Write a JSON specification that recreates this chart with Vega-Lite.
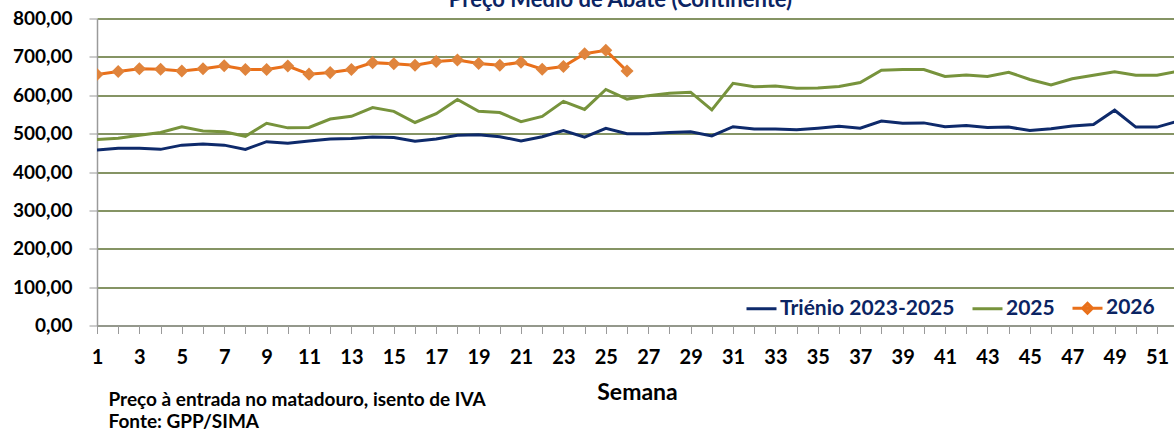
{
  "$schema": "https://vega.github.io/schema/vega-lite/v6.json",
  "autosize": "none",
  "width": 1077,
  "height": 307,
  "padding": {"left": 97, "top": 18.5, "right": 0, "bottom": 108.5},
  "background": "white",
  "config": {
    "view": {"stroke": null},
    "font": "Lato"
  },
  "title": {
    "text": "Preço Médio de Abate (Continente)",
    "anchor": "middle",
    "dx": -15,
    "dy": 19,
    "offset": 0,
    "baseline": "alphabetic",
    "font": "Lato",
    "fontSize": 22,
    "fontWeight": "bold",
    "color": "#0B2463"
  },
  "data": {
    "values": [
      {"semana": 1, "serie": "Triénio 2023-2025", "preco": 457},
      {"semana": 2, "serie": "Triénio 2023-2025", "preco": 462},
      {"semana": 3, "serie": "Triénio 2023-2025", "preco": 462},
      {"semana": 4, "serie": "Triénio 2023-2025", "preco": 459},
      {"semana": 5, "serie": "Triénio 2023-2025", "preco": 470},
      {"semana": 6, "serie": "Triénio 2023-2025", "preco": 473},
      {"semana": 7, "serie": "Triénio 2023-2025", "preco": 470},
      {"semana": 8, "serie": "Triénio 2023-2025", "preco": 459},
      {"semana": 9, "serie": "Triénio 2023-2025", "preco": 479},
      {"semana": 10, "serie": "Triénio 2023-2025", "preco": 475},
      {"semana": 11, "serie": "Triénio 2023-2025", "preco": 481},
      {"semana": 12, "serie": "Triénio 2023-2025", "preco": 486},
      {"semana": 13, "serie": "Triénio 2023-2025", "preco": 487},
      {"semana": 14, "serie": "Triénio 2023-2025", "preco": 491},
      {"semana": 15, "serie": "Triénio 2023-2025", "preco": 490},
      {"semana": 16, "serie": "Triénio 2023-2025", "preco": 480},
      {"semana": 17, "serie": "Triénio 2023-2025", "preco": 486},
      {"semana": 18, "serie": "Triénio 2023-2025", "preco": 496},
      {"semana": 19, "serie": "Triénio 2023-2025", "preco": 497},
      {"semana": 20, "serie": "Triénio 2023-2025", "preco": 492},
      {"semana": 21, "serie": "Triénio 2023-2025", "preco": 481},
      {"semana": 22, "serie": "Triénio 2023-2025", "preco": 492},
      {"semana": 23, "serie": "Triénio 2023-2025", "preco": 508},
      {"semana": 24, "serie": "Triénio 2023-2025", "preco": 491},
      {"semana": 25, "serie": "Triénio 2023-2025", "preco": 514},
      {"semana": 26, "serie": "Triénio 2023-2025", "preco": 500},
      {"semana": 27, "serie": "Triénio 2023-2025", "preco": 500},
      {"semana": 28, "serie": "Triénio 2023-2025", "preco": 503},
      {"semana": 29, "serie": "Triénio 2023-2025", "preco": 505},
      {"semana": 30, "serie": "Triénio 2023-2025", "preco": 494},
      {"semana": 31, "serie": "Triénio 2023-2025", "preco": 518},
      {"semana": 32, "serie": "Triénio 2023-2025", "preco": 512},
      {"semana": 33, "serie": "Triénio 2023-2025", "preco": 512},
      {"semana": 34, "serie": "Triénio 2023-2025", "preco": 510},
      {"semana": 35, "serie": "Triénio 2023-2025", "preco": 514},
      {"semana": 36, "serie": "Triénio 2023-2025", "preco": 519},
      {"semana": 37, "serie": "Triénio 2023-2025", "preco": 514},
      {"semana": 38, "serie": "Triénio 2023-2025", "preco": 533},
      {"semana": 39, "serie": "Triénio 2023-2025", "preco": 527},
      {"semana": 40, "serie": "Triénio 2023-2025", "preco": 528},
      {"semana": 41, "serie": "Triénio 2023-2025", "preco": 518},
      {"semana": 42, "serie": "Triénio 2023-2025", "preco": 521},
      {"semana": 43, "serie": "Triénio 2023-2025", "preco": 516},
      {"semana": 44, "serie": "Triénio 2023-2025", "preco": 517},
      {"semana": 45, "serie": "Triénio 2023-2025", "preco": 508},
      {"semana": 46, "serie": "Triénio 2023-2025", "preco": 513},
      {"semana": 47, "serie": "Triénio 2023-2025", "preco": 520},
      {"semana": 48, "serie": "Triénio 2023-2025", "preco": 524},
      {"semana": 49, "serie": "Triénio 2023-2025", "preco": 561},
      {"semana": 50, "serie": "Triénio 2023-2025", "preco": 517},
      {"semana": 51, "serie": "Triénio 2023-2025", "preco": 517},
      {"semana": 52, "serie": "Triénio 2023-2025", "preco": 533},
      {"semana": 1, "serie": "2025", "preco": 485},
      {"semana": 2, "serie": "2025", "preco": 488},
      {"semana": 3, "serie": "2025", "preco": 496},
      {"semana": 4, "serie": "2025", "preco": 503},
      {"semana": 5, "serie": "2025", "preco": 518},
      {"semana": 6, "serie": "2025", "preco": 507},
      {"semana": 7, "serie": "2025", "preco": 505},
      {"semana": 8, "serie": "2025", "preco": 493},
      {"semana": 9, "serie": "2025", "preco": 527},
      {"semana": 10, "serie": "2025", "preco": 515},
      {"semana": 11, "serie": "2025", "preco": 516},
      {"semana": 12, "serie": "2025", "preco": 538},
      {"semana": 13, "serie": "2025", "preco": 545},
      {"semana": 14, "serie": "2025", "preco": 568},
      {"semana": 15, "serie": "2025", "preco": 558},
      {"semana": 16, "serie": "2025", "preco": 529},
      {"semana": 17, "serie": "2025", "preco": 552},
      {"semana": 18, "serie": "2025", "preco": 589},
      {"semana": 19, "serie": "2025", "preco": 558},
      {"semana": 20, "serie": "2025", "preco": 555},
      {"semana": 21, "serie": "2025", "preco": 531},
      {"semana": 22, "serie": "2025", "preco": 545},
      {"semana": 23, "serie": "2025", "preco": 584},
      {"semana": 24, "serie": "2025", "preco": 563},
      {"semana": 25, "serie": "2025", "preco": 615},
      {"semana": 26, "serie": "2025", "preco": 590},
      {"semana": 27, "serie": "2025", "preco": 599},
      {"semana": 28, "serie": "2025", "preco": 605},
      {"semana": 29, "serie": "2025", "preco": 608},
      {"semana": 30, "serie": "2025", "preco": 562},
      {"semana": 31, "serie": "2025", "preco": 631},
      {"semana": 32, "serie": "2025", "preco": 622},
      {"semana": 33, "serie": "2025", "preco": 624},
      {"semana": 34, "serie": "2025", "preco": 618},
      {"semana": 35, "serie": "2025", "preco": 619},
      {"semana": 36, "serie": "2025", "preco": 623},
      {"semana": 37, "serie": "2025", "preco": 633},
      {"semana": 38, "serie": "2025", "preco": 665},
      {"semana": 39, "serie": "2025", "preco": 667},
      {"semana": 40, "serie": "2025", "preco": 667},
      {"semana": 41, "serie": "2025", "preco": 649},
      {"semana": 42, "serie": "2025", "preco": 653},
      {"semana": 43, "serie": "2025", "preco": 649},
      {"semana": 44, "serie": "2025", "preco": 660},
      {"semana": 45, "serie": "2025", "preco": 641},
      {"semana": 46, "serie": "2025", "preco": 627},
      {"semana": 47, "serie": "2025", "preco": 643},
      {"semana": 48, "serie": "2025", "preco": 652},
      {"semana": 49, "serie": "2025", "preco": 661},
      {"semana": 50, "serie": "2025", "preco": 652},
      {"semana": 51, "serie": "2025", "preco": 652},
      {"semana": 52, "serie": "2025", "preco": 663},
      {"semana": 1, "serie": "2026", "preco": 654},
      {"semana": 2, "serie": "2026", "preco": 662},
      {"semana": 3, "serie": "2026", "preco": 669},
      {"semana": 4, "serie": "2026", "preco": 668},
      {"semana": 5, "serie": "2026", "preco": 663},
      {"semana": 6, "serie": "2026", "preco": 669},
      {"semana": 7, "serie": "2026", "preco": 677},
      {"semana": 8, "serie": "2026", "preco": 667},
      {"semana": 9, "serie": "2026", "preco": 667},
      {"semana": 10, "serie": "2026", "preco": 676},
      {"semana": 11, "serie": "2026", "preco": 655},
      {"semana": 12, "serie": "2026", "preco": 659},
      {"semana": 13, "serie": "2026", "preco": 667},
      {"semana": 14, "serie": "2026", "preco": 685},
      {"semana": 15, "serie": "2026", "preco": 682},
      {"semana": 16, "serie": "2026", "preco": 678},
      {"semana": 17, "serie": "2026", "preco": 688},
      {"semana": 18, "serie": "2026", "preco": 692},
      {"semana": 19, "serie": "2026", "preco": 683},
      {"semana": 20, "serie": "2026", "preco": 678},
      {"semana": 21, "serie": "2026", "preco": 686},
      {"semana": 22, "serie": "2026", "preco": 668},
      {"semana": 23, "serie": "2026", "preco": 675},
      {"semana": 24, "serie": "2026", "preco": 708},
      {"semana": 25, "serie": "2026", "preco": 717},
      {"semana": 26, "serie": "2026", "preco": 663}
    ]
  },
  "encoding": {
    "x": {
      "field": "semana",
      "type": "quantitative",
      "scale": {"domain": [1, 51.8], "nice": false, "zero": false},
      "axis": {
        "title": "Semana",
        "titleFont": "Lato",
        "titleFontSize": 23,
        "titleFontWeight": "bold",
        "titleColor": "#000000",
        "titleX": 540,
        "titleY": 67,
        "titleAlign": "center",
        "titleBaseline": "middle",
        "values": [1,2,3,4,5,6,7,8,9,10,11,12,13,14,15,16,17,18,19,20,21,22,23,24,25,26,27,28,29,30,31,32,33,34,35,36,37,38,39,40,41,42,43,44,45,46,47,48,49,50,51],
        "labelExpr": "datum.value % 2 == 1 ? format(datum.value, 'd') : ''",
        "labelFont": "Lato",
        "labelFontSize": 20,
        "labelFontWeight": "bold",
        "labelColor": "#000000",
        "labelPadding": 14,
        "labelOverlap": false,
        "labelFlush": false,
        "grid": false,
        "domainColor": "#9a9a9a",
        "domainWidth": 1.5,
        "tickColor": "#9a9a9a",
        "tickSize": 8,
        "tickWidth": 1
      }
    },
    "y": {
      "field": "preco",
      "type": "quantitative",
      "scale": {"domain": [0, 800], "nice": false},
      "axis": {
        "title": ["Preço à entrada no matadouro, isento de IVA", "Fonte: GPP/SIMA"],
        "titleAngle": 0,
        "titleX": 11,
        "titleY": 386.5,
        "titleAlign": "left",
        "titleBaseline": "alphabetic",
        "titleFont": "Lato",
        "titleFontSize": 19,
        "titleFontWeight": "bold",
        "titleColor": "#000000",
        "titleLineHeight": 22,
        "values": [0, 100, 200, 300, 400, 500, 600, 700, 800],
        "labelExpr": "replace(format(datum.value, '.2f'), '.', ',')",
        "labelFont": "Lato",
        "labelFontSize": 19,
        "labelFontWeight": "bold",
        "labelColor": "#000000",
        "labelPadding": 17,
        "grid": true,
        "gridColor": "#5d7030",
        "gridWidth": 1.4,
        "domainColor": "#9a9a9a",
        "domainWidth": 1.5,
        "tickColor": "#9a9a9a",
        "tickSize": 8,
        "tickWidth": 1
      }
    },
    "color": {
      "field": "serie",
      "type": "nominal",
      "scale": {
        "domain": ["Triénio 2023-2025", "2025", "2026"],
        "range": ["#0E2A6B", "#77933C", "#E9701A"]
      },
      "legend": {
        "orient": "none",
        "legendX": 648,
        "legendY": 273,
        "direction": "horizontal",
        "title": null,
        "symbolType": "stroke",
        "symbolSize": 900,
        "symbolStrokeWidth": 3,
        "labelFont": "Lato",
        "labelFontSize": 21,
        "labelFontWeight": "bold",
        "labelColor": "#0B2463",
        "labelLimit": 400,
        "labelOffset": 2,
        "columnPadding": 11,
        "encode": {
          "symbols": {
            "update": {
              "shape": [
                {"test": "datum.label === '2026'", "value": "M-1,0H1M0,-0.33L0.33,0L0,0.33L-0.33,0Z"},
                {"value": "stroke"}
              ],
              "fill": [
                {"test": "datum.label === '2026'", "value": "#E0843C"},
                {"value": "transparent"}
              ]
            }
          }
        }
      }
    },
    "order": {"field": "semana", "type": "quantitative"}
  },
  "layer": [
    {
      "mark": {"type": "line", "strokeWidth": 3, "clip": true}
    },
    {
      "transform": [{"filter": "datum.serie === '2026'"}],
      "mark": {"type": "point", "shape": "diamond", "filled": true, "size": 170, "color": "#E0843C", "opacity": 1, "clip": true},
      "encoding": {"color": {"value": "#E0843C"}}
    }
  ]
}
